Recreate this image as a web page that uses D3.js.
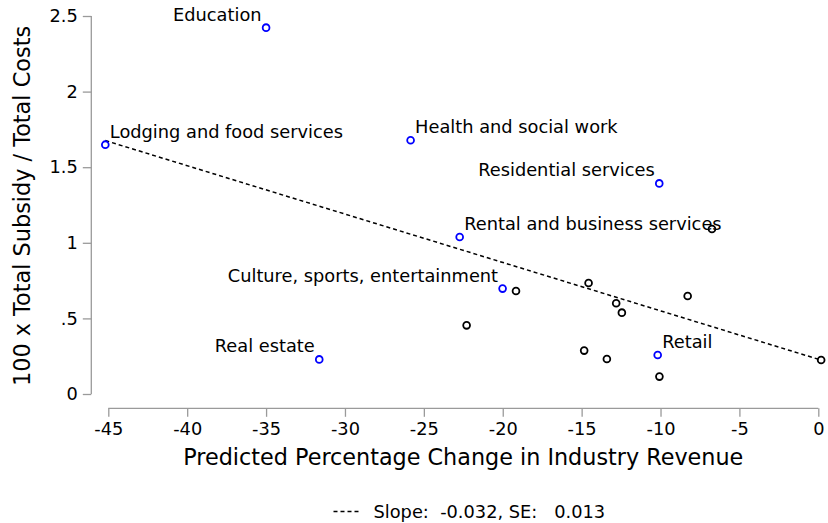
<!DOCTYPE html>
<html>
<head>
<meta charset="utf-8">
<script src="https://cdn.jsdelivr.net/npm/d3@7"></script>
<style>
  html, body { margin: 0; padding: 0; background: #fff; }
  svg { display: block; }
  text { font-family: "DejaVu Sans", sans-serif; fill: #000; }
</style>
</head>
<body>
<svg id="chart" width="828" height="523"></svg>
<script>
// Industries: predicted revenue change (%) vs. subsidy share of costs
const labels = ["Education", "Lodging and food services", "Health and social work",
  "Real estate", "Residential services", "Rental and business services",
  "Culture, sports, entertainment", "Retail",
  "", "", "", "", "", "", "", "", "", "", ""];
const revenueChange = [-35.0, -45.19, -25.84, -31.63, -10.08, -22.73, -20.01, -10.18,
  -6.74, -19.16, -22.29, -14.56, -12.81, -12.45, -8.28, -14.84, -13.4, -10.07, 0.18];
const subsidyRatio = [2.423, 1.649, 1.678, 0.229, 1.393, 1.038, 0.697, 0.258,
  1.091, 0.681, 0.454, 0.734, 0.600, 0.538, 0.648, 0.287, 0.231, 0.115, 0.225];
// label position: "l" = upper-left of marker, "r" = upper-right
const labelSide = ["l", "r", "r", "l", "l", "r", "l", "r",
  "", "", "", "", "", "", "", "", "", "", ""];

const xTicks = [-45, -40, -35, -30, -25, -20, -15, -10, -5, 0];
const yTicks = [0, 0.5, 1, 1.5, 2, 2.5];
const yTickLabels = ["0", ".5", "1", "1.5", "2", "2.5"];

const fitSlope = -0.032;
const fitSE = 0.013;
const fitIntercept = 0.23;

const svg = d3.select("#chart");
const x = d3.scaleLinear().domain([-45, 0]).range([108.3, 818.3]);
const y = d3.scaleLinear().domain([0, 2.5]).range([394, 16]);

const axisColor = "#9a9a9a";
const fs = 17.8;

// y axis
const yAxis = svg.append("g").attr("transform", "translate(91.3,0)")
  .call(d3.axisLeft(y).tickValues(yTicks).tickSize(8.5).tickPadding(5)
    .tickFormat((d, i) => yTickLabels[i]));
yAxis.select(".domain").attr("stroke", axisColor).attr("stroke-width", 1.3)
  .attr("d", `M0,${y(2.5)}V${y(0)}`);
yAxis.selectAll(".tick line").attr("stroke", axisColor).attr("stroke-width", 1.3);
yAxis.selectAll(".tick text").attr("font-size", fs).attr("font-family", "DejaVu Sans").attr("fill", "#000");

// x axis (plain hyphen for negative numbers)
const xAxis = svg.append("g").attr("transform", "translate(0,408.3)")
  .call(d3.axisBottom(x).tickValues(xTicks).tickSize(8.5).tickPadding(6)
    .tickFormat(d => String(d)));
xAxis.select(".domain").attr("stroke", axisColor).attr("stroke-width", 1.3)
  .attr("d", `M${x(-45)},0H${x(0)}`);
xAxis.selectAll(".tick line").attr("stroke", axisColor).attr("stroke-width", 1.3);
xAxis.selectAll(".tick text").attr("font-size", fs).attr("font-family", "DejaVu Sans").attr("fill", "#000");

// axis titles
svg.append("text")
  .attr("transform", `translate(30,${(y(0) + y(2.5)) / 2 + 1}) rotate(-90)`)
  .attr("text-anchor", "middle").attr("font-size", 22.4)
  .text("100 x Total Subsidy / Total Costs");
svg.append("text")
  .attr("x", (x(-45) + x(0)) / 2).attr("y", 464.5)
  .attr("text-anchor", "middle").attr("font-size", 22.3)
  .text("Predicted Percentage Change in Industry Revenue");

// fitted line
const xMin = d3.min(revenueChange), xMax = d3.max(revenueChange);
svg.append("line")
  .attr("x1", x(xMin)).attr("y1", y(fitIntercept + fitSlope * xMin))
  .attr("x2", x(xMax)).attr("y2", y(fitIntercept + fitSlope * xMax))
  .attr("stroke", "#000").attr("stroke-width", 1.5).attr("stroke-dasharray", "4,3");

// markers
const pts = revenueChange.map((v, i) => ({ x: v, y: subsidyRatio[i], label: labels[i], side: labelSide[i] }));
svg.append("g").selectAll("circle").data(pts).join("circle")
  .attr("cx", d => x(d.x)).attr("cy", d => y(d.y)).attr("r", 3.4)
  .attr("fill", "none").attr("stroke-width", 1.8)
  .attr("stroke", d => d.label ? "#0000ff" : "#000");

// marker labels
svg.append("g").selectAll("text").data(pts.filter(d => d.label)).join("text")
  .attr("x", d => x(d.x) + (d.side === "l" ? -4.5 : 4.5))
  .attr("y", d => y(d.y) - 7)
  .attr("text-anchor", d => d.side === "l" ? "end" : "start")
  .attr("font-size", fs)
  .text(d => d.label);

// legend
svg.append("line").attr("x1", 333.5).attr("x2", 361).attr("y1", 511.5).attr("y2", 511.5)
  .attr("stroke", "#000").attr("stroke-width", 1.5).attr("stroke-dasharray", "4,3");
svg.append("text").attr("x", 373.5).attr("y", 517.5).attr("font-size", fs)
  .attr("xml:space", "preserve").style("white-space", "pre")
  .text(`Slope:  ${fitSlope.toFixed(3)}, SE:   ${fitSE.toFixed(3)}`);
</script>
</body>
</html>
